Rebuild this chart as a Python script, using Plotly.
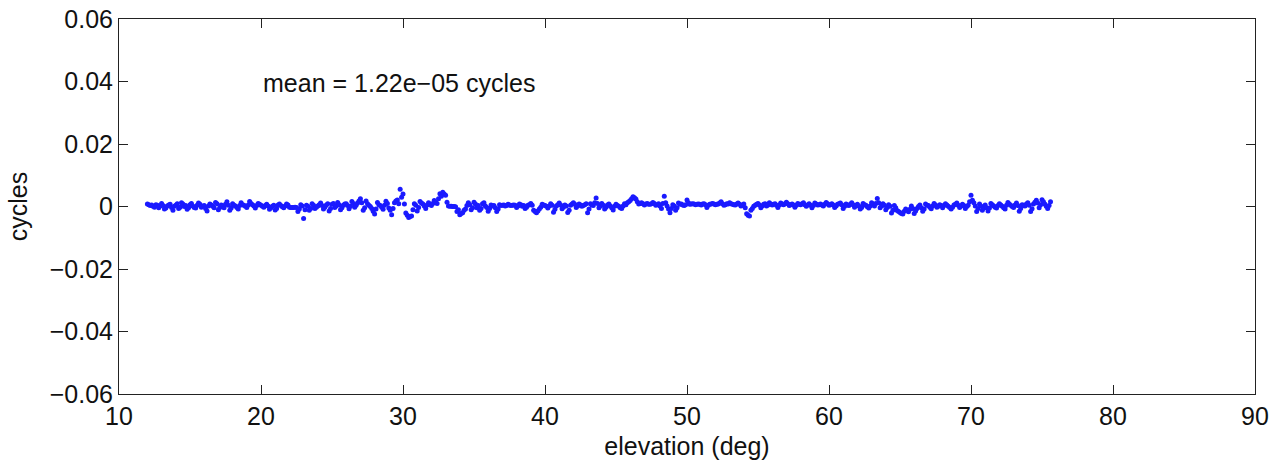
import plotly.graph_objects as go

# residuals in cycles, sampled every 0.1 deg of elevation starting at 12.0 deg
residual_cycles = [
    0.0008, 0.0006, 0.0003, 0.0005, 0.0001, -0.0002, 0.0006, 0.0004, -0.0004, 0.0002,
    0.0010, 0.0003, -0.0008, -0.0005, 0.0002, 0.0005, 0.0007, -0.0003, -0.0012, 0.0001,
    0.0004, 0.0009, -0.0006, -0.0002, 0.0012, 0.0008, 0.0000, 0.0003, -0.0009, -0.0004,
    0.0006, 0.0010, 0.0002, -0.0003, -0.0005, 0.0004, 0.0011, 0.0007, -0.0002, 0.0001,
    0.0003, -0.0006, -0.0014, 0.0002, 0.0008, 0.0005, 0.0001, -0.0004, 0.0013, 0.0009,
    -0.0010, -0.0003, 0.0005, 0.0002, -0.0004, 0.0007, 0.0015, 0.0004, -0.0012, -0.0005,
    0.0009, 0.0004, 0.0002, -0.0003, -0.0008, 0.0003, 0.0012, 0.0006, 0.0004, 0.0001,
    -0.0003, 0.0005, 0.0016, 0.0010, 0.0006, 0.0002, -0.0005, 0.0003, 0.0010, 0.0007,
    0.0004, 0.0001, -0.0002, 0.0003, 0.0007, 0.0002, -0.0009, -0.0004, 0.0001, 0.0004,
    -0.0011, -0.0006, 0.0005, 0.0008, 0.0003, -0.0001, -0.0004, 0.0002, 0.0008, 0.0005,
    -0.0002, -0.0003, -0.0003, -0.0003, -0.0002, -0.0003, -0.0016, -0.0008, 0.0006, 0.0002,
    -0.0038, -0.0010, 0.0004, 0.0001, -0.0012, -0.0006, 0.0009, 0.0004, -0.0006, -0.0002,
    0.0002, 0.0006, 0.0011, 0.0003, -0.0008, -0.0002, 0.0005, 0.0009, -0.0014, -0.0006,
    0.0007, 0.0010, -0.0003, 0.0002, 0.0013, 0.0006, -0.0010, -0.0004, 0.0004, 0.0008,
    0.0009, 0.0003, -0.0007, 0.0001, 0.0016, 0.0010, -0.0002, 0.0004, 0.0011, 0.0018,
    0.0025, 0.0012, -0.0012, -0.0004, 0.0018, 0.0009, 0.0004, 0.0000, -0.0006, -0.0015,
    -0.0024, -0.0008, 0.0013, 0.0006, 0.0003, -0.0002, -0.0009, 0.0004, 0.0017, 0.0010,
    -0.0005, -0.0012, -0.0026, -0.0006, 0.0012, 0.0018, 0.0021, 0.0009, 0.0055, 0.0030,
    0.0040, 0.0008, -0.0021, -0.0028, -0.0035, -0.0032, -0.0030, -0.0010, 0.0009, 0.0004,
    -0.0014, -0.0003, 0.0016, 0.0011, 0.0008, 0.0002, -0.0006, 0.0005, 0.0012, 0.0007,
    0.0003, 0.0010, 0.0019, 0.0014, 0.0010, 0.0025, 0.0041, 0.0033, 0.0046, 0.0040,
    0.0036, 0.0014, 0.0002, 0.0001, 0.0001, 0.0000, 0.0000, -0.0001, -0.0016, -0.0010,
    -0.0026, -0.0022, -0.0020, -0.0012, -0.0008, 0.0003, 0.0012, 0.0006, -0.0010, -0.0004,
    0.0014, 0.0008, -0.0004, 0.0003, -0.0012, -0.0006, 0.0009, 0.0012, 0.0002, -0.0003,
    -0.0015, -0.0006, 0.0005, 0.0002, 0.0003, -0.0004, -0.0016, -0.0008, 0.0006, 0.0003,
    0.0004, 0.0005, 0.0002, 0.0003, 0.0007, 0.0005, 0.0003, 0.0004, 0.0005, 0.0004,
    -0.0003, 0.0002, 0.0008, 0.0006, 0.0001, 0.0003, -0.0006, -0.0002, 0.0004, 0.0006,
    0.0010, 0.0004, -0.0012, -0.0016, -0.0020, -0.0014, -0.0008, -0.0002, 0.0007, 0.0005,
    0.0003, 0.0001, -0.0005, 0.0002, 0.0009, 0.0004, -0.0018, -0.0009, 0.0002, 0.0006,
    0.0011, 0.0005, -0.0007, -0.0002, 0.0005, 0.0002, -0.0019, -0.0012, 0.0004, 0.0008,
    0.0012, 0.0007, -0.0003, 0.0002, 0.0008, 0.0005, 0.0001, 0.0003, 0.0006, 0.0009,
    -0.0020, -0.0008, 0.0009, 0.0005, 0.0003, 0.0012, 0.0027, 0.0010, -0.0004, 0.0002,
    0.0010, 0.0004, -0.0008, -0.0002, 0.0005, 0.0008, 0.0002, -0.0004, -0.0011, 0.0001,
    0.0007, 0.0003, 0.0001, -0.0004, -0.0006, 0.0002, 0.0009, 0.0006, 0.0012, 0.0015,
    0.0019, 0.0025, 0.0031, 0.0028, 0.0024, 0.0015, 0.0008, 0.0010, 0.0012, 0.0009,
    0.0005, 0.0008, 0.0010, 0.0007, 0.0007, 0.0009, 0.0013, 0.0010, 0.0004, 0.0006,
    0.0009, 0.0002, -0.0006, 0.0010, 0.0033, 0.0012, 0.0002, -0.0008, -0.0020, -0.0006,
    0.0006, 0.0002, -0.0012, -0.0004, 0.0011, 0.0007, 0.0008, 0.0005, 0.0003, 0.0006,
    0.0021, 0.0012, 0.0007, 0.0008, 0.0009, 0.0008, 0.0006, 0.0007, 0.0008, 0.0007,
    0.0005, 0.0008, 0.0009, 0.0006, -0.0003, 0.0004, 0.0007, 0.0008, 0.0010, 0.0008,
    0.0006, 0.0007, 0.0008, 0.0011, 0.0015, 0.0009, 0.0004, 0.0006, 0.0009, 0.0008,
    0.0012, 0.0009, 0.0007, 0.0006, 0.0005, 0.0008, 0.0011, 0.0007, 0.0002, 0.0005,
    0.0008, -0.0004, -0.0023, -0.0028, -0.0030, -0.0012, -0.0006, 0.0001, 0.0004, 0.0007,
    0.0010, 0.0005, -0.0004, 0.0002, 0.0007, 0.0009, 0.0002, 0.0005, 0.0012, 0.0008,
    0.0005, 0.0007, 0.0009, 0.0004, -0.0003, 0.0005, 0.0011, 0.0008, 0.0006, 0.0009,
    0.0014, 0.0009, 0.0003, 0.0006, 0.0008, 0.0005, -0.0002, 0.0004, 0.0010, 0.0007,
    0.0006, 0.0009, 0.0012, 0.0006, 0.0001, 0.0005, 0.0009, 0.0004, -0.0004, 0.0003,
    0.0011, 0.0008, 0.0005, 0.0006, 0.0008, 0.0005, 0.0002, 0.0007, 0.0013, 0.0009,
    0.0004, 0.0006, 0.0009, 0.0005, -0.0003, 0.0002, 0.0007, 0.0009, 0.0011, 0.0006,
    -0.0006, 0.0001, 0.0008, 0.0005, 0.0003, 0.0007, 0.0012, 0.0006, -0.0002, 0.0003,
    0.0007, 0.0002, -0.0008, -0.0003, 0.0010, 0.0006, 0.0004, -0.0001, -0.0005, 0.0002,
    0.0012, 0.0008, 0.0002, 0.0010, 0.0026, 0.0012, -0.0004, 0.0002, 0.0009, 0.0004,
    -0.0010, -0.0003, 0.0006, 0.0001, -0.0021, -0.0012, 0.0003, -0.0004, -0.0013, -0.0016,
    -0.0019, -0.0022, -0.0024, -0.0015, -0.0008, -0.0012, -0.0017, -0.0009, 0.0002, -0.0006,
    -0.0022, -0.0014, -0.0006, 0.0000, 0.0005, -0.0004, -0.0015, -0.0008, 0.0008, 0.0004,
    0.0003, -0.0002, -0.0007, 0.0002, 0.0010, 0.0005, -0.0002, 0.0001, 0.0006, 0.0003,
    -0.0004, 0.0003, 0.0009, 0.0005, 0.0001, -0.0003, -0.0008, -0.0002, 0.0005, 0.0007,
    0.0011, 0.0004, -0.0003, 0.0002, 0.0007, 0.0003, -0.0006, 0.0000, 0.0004, 0.0015,
    0.0036, 0.0020, 0.0012, 0.0002, -0.0016, -0.0006, 0.0008, 0.0002, -0.0012, -0.0004,
    0.0005, -0.0004, -0.0014, -0.0005, 0.0010, 0.0006, 0.0002, -0.0002, -0.0005, 0.0003,
    0.0009, 0.0005, 0.0001, -0.0004, -0.0008, 0.0004, 0.0013, 0.0008, 0.0004, 0.0000,
    -0.0003, 0.0005, 0.0011, 0.0003, -0.0015, -0.0006, 0.0006, 0.0004, 0.0002, 0.0008,
    0.0012, 0.0004, -0.0016, -0.0007, 0.0008, 0.0014, 0.0020, 0.0011, -0.0004, 0.0006,
    0.0022, 0.0015, 0.0008, 0.0001, -0.0006, 0.0003, 0.0015,
]
elev_start_deg = 12.0
elev_step_deg = 0.1
elevation_deg = [round(elev_start_deg + elev_step_deg * i, 2) for i in range(len(residual_cycles))]

x_ticks = [10, 20, 30, 40, 50, 60, 70, 80, 90]
y_ticks = [-0.06, -0.04, -0.02, 0, 0.02, 0.04, 0.06]
y_tick_labels = ["\u22120.06", "\u22120.04", "\u22120.02", "0", "0.02", "0.04", "0.06"]
annotation_text = "mean = 1.22e\u221205 cycles"

FONT = "Liberation Sans, Helvetica, Arial, sans-serif"
FS = 25

fig = go.Figure()
fig.add_trace(go.Scatter(
    x=elevation_deg, y=residual_cycles, mode="markers",
    marker=dict(color="#1a1aff", size=5, line=dict(width=0)),
    showlegend=False, hoverinfo="x+y",
))

axis_common = dict(
    showline=True, linecolor="#222222", linewidth=1, mirror="ticks",
    ticks="inside", ticklen=9, tickcolor="#222222", tickwidth=1,
    showgrid=False, zeroline=False, automargin=False,
    tickfont=dict(family=FONT, size=FS, color="#111111"),
    title_font=dict(family=FONT, size=FS, color="#111111"),
)

fig.update_layout(
    width=1271, height=460,
    margin=dict(l=119, r=16, t=19, b=66),
    paper_bgcolor="white", plot_bgcolor="white",
    font=dict(family=FONT, size=FS, color="#111111"),
    xaxis=dict(range=[10, 90], tickvals=x_ticks, ticktext=[str(v) for v in x_ticks],
               title=dict(text="elevation (deg)", standoff=8), **axis_common),
    yaxis=dict(range=[-0.06, 0.06], tickvals=y_ticks, ticktext=y_tick_labels,
               title=dict(text="cycles", standoff=14), **axis_common),
    annotations=[dict(x=20, y=0.0395, xref="x", yref="y", text=annotation_text,
                      showarrow=False, xanchor="left", yanchor="middle",
                      font=dict(family=FONT, size=FS, color="#111111"))],
)

fig.write_html("out.html")
